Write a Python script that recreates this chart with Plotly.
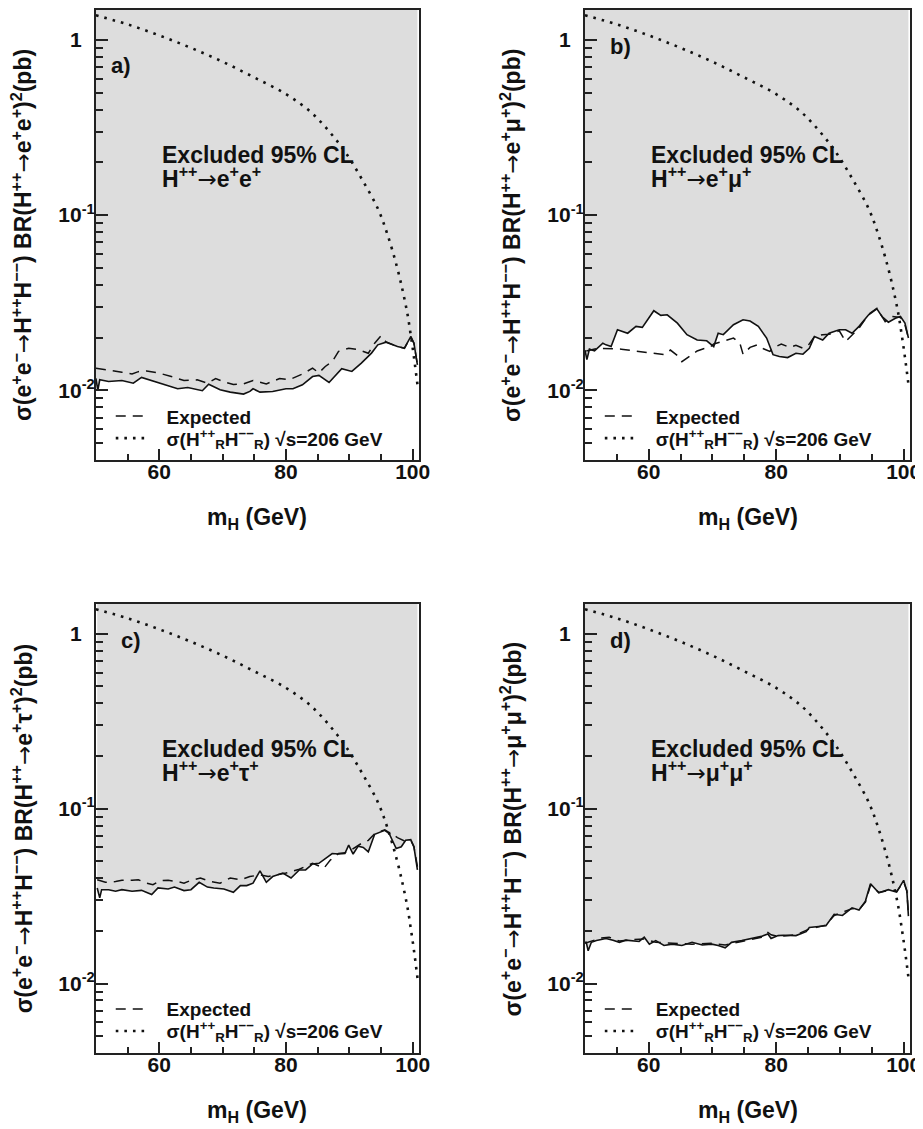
import math
import plotly.graph_objects as go

# ---------------- data ----------------
X_RANGE = [50, 101]
Y_RANGE = [0.004, 1.48]

# theoretical cross-section sigma(H_R++ H_R--) at sqrt(s)=206 GeV (same in all panels)
MASS_THEORY = [50.0, 55.0, 60.0, 65.0, 70.0, 75.0, 80.0, 84.0, 87.0, 89.5, 92.0,
               94.5, 96.0, 97.5, 98.5, 99.2, 99.7, 100.2, 100.8]
SIGMA_THEORY = [1.38, 1.225, 1.06, 0.90, 0.75, 0.61, 0.49, 0.385, 0.295, 0.225, 0.160,
                0.109, 0.078, 0.051, 0.036, 0.027, 0.0207, 0.0155, 0.0105]

# a) H++ -> e+ e+
MASS_A_OBS = [50.0, 50.3, 50.6, 52.0, 54.1, 55.9, 57.2, 59.3, 61.4, 62.9, 64.5, 65.5,
              66.8, 67.8, 69.6, 71.2, 73.3, 74.3, 74.8, 75.9, 77.9, 80.0, 81.1, 82.6,
              84.2, 85.2, 86.8, 88.8, 90.4, 91.9, 93.5, 94.5, 95.8, 97.6, 98.7, 99.7,
              100.2, 100.75]
LIMIT_A_OBS = [0.0117, 0.0100, 0.0115, 0.01125, 0.0114, 0.0110, 0.01186, 0.01125, 0.01068,
               0.01022, 0.0104, 0.01022, 0.00996, 0.01086, 0.0101, 0.00978, 0.00953, 0.00987,
               0.01022, 0.00978, 0.00987, 0.01022, 0.01022, 0.01077, 0.0120, 0.01218, 0.0111,
               0.0133, 0.01283, 0.01432, 0.01633, 0.0182, 0.01886, 0.01783, 0.01742, 0.0203,
               0.0186, 0.0140]
MASS_A_EXP = [50.0, 52.0, 54.1, 55.7, 56.7, 58.0, 59.8, 61.9, 63.9, 66.0, 67.6, 68.9,
              70.2, 71.7, 73.3, 74.8, 76.9, 79.0, 80.5, 82.6, 84.2, 85.2, 86.2, 87.3,
              88.3, 89.9, 91.4, 93.0, 94.0, 95.0, 95.8, 97.6, 98.7, 99.7, 100.2, 100.75]
LIMIT_A_EXP = [0.0134, 0.0131, 0.0127, 0.0124, 0.0128, 0.0129, 0.0126, 0.0120, 0.0114,
               0.0115, 0.0110, 0.0117, 0.0112, 0.0108, 0.0109, 0.0114, 0.0109, 0.0117,
               0.0115, 0.0124, 0.0134, 0.0126, 0.0137, 0.0146, 0.0167, 0.0174, 0.0171,
               0.0163, 0.0186, 0.0205, 0.0189, 0.0178, 0.0174, 0.0203, 0.0186, 0.0140]

# b) H++ -> e+ mu+
MASS_B_OBS = [50.0, 50.3, 50.7, 51.5, 52.8, 53.3, 54.1, 55.1, 56.7, 58.0, 59.0, 60.8,
              61.9, 62.9, 64.5, 66.0, 67.6, 69.1, 70.2, 70.9, 71.7, 73.3, 74.8, 75.9,
              77.2, 78.5, 79.5, 80.5, 81.8, 83.1, 84.2, 85.2, 86.0, 87.3, 88.3, 89.9,
              90.9, 91.9, 93.0, 94.5, 95.8, 96.6, 97.6, 98.7, 99.5, 100.2, 100.75]
LIMIT_B_OBS = [0.0170, 0.0150, 0.0172, 0.0168, 0.0186, 0.0182, 0.0178, 0.0222, 0.0212,
               0.0232, 0.0229, 0.0285, 0.0268, 0.0270, 0.0242, 0.0208, 0.0194, 0.0192,
               0.0178, 0.0212, 0.0208, 0.0237, 0.0253, 0.0249, 0.0232, 0.0199, 0.0160,
               0.0156, 0.0154, 0.0163, 0.0161, 0.0174, 0.0203, 0.0194, 0.0212, 0.0222,
               0.0222, 0.0212, 0.0232, 0.0270, 0.0292, 0.0264, 0.0245, 0.0258, 0.0264,
               0.0242, 0.0199]
MASS_B_EXP = [50.2, 52.0, 55.7, 58.2, 60.8, 62.4, 63.4, 64.5, 65.2, 66.5, 67.6, 68.6,
              69.6, 70.2, 71.2, 73.3, 74.3, 74.8, 75.9, 77.0, 78.0, 79.0, 80.0, 80.8,
              82.1, 83.1, 84.2, 85.2, 86.0, 87.3, 88.3, 89.9, 90.9, 91.9, 93.0, 94.5,
              95.8, 97.1, 98.2, 99.5, 100.2, 100.75]
LIMIT_B_EXP = [0.0168, 0.0174, 0.0172, 0.0167, 0.0162, 0.0160, 0.0170, 0.0158, 0.0146,
               0.0158, 0.0168, 0.0173, 0.0176, 0.0184, 0.0189, 0.0199, 0.0186, 0.0161,
               0.0176, 0.0182, 0.0173, 0.0167, 0.0178, 0.0184, 0.0176, 0.0181, 0.0174,
               0.0184, 0.0203, 0.0208, 0.0209, 0.0219, 0.0190, 0.0208, 0.0227, 0.0272,
               0.0294, 0.0247, 0.0264, 0.0261, 0.0237, 0.0199]

# c) H++ -> e+ tau+
MASS_C_OBS = [50.2, 50.6, 50.9, 52.0, 53.1, 54.1, 55.7, 57.2, 58.8, 59.8, 61.4, 62.4,
              63.9, 65.0, 66.3, 67.6, 68.6, 70.2, 71.7, 72.8, 73.8, 74.8, 75.9, 76.9,
              77.9, 79.5, 80.8, 82.1, 83.1, 84.2, 85.2, 86.2, 87.3, 88.3, 89.3, 89.9,
              90.6, 91.4, 92.2, 93.0, 94.0, 95.6, 96.3, 97.4, 98.2, 98.9, 99.7, 100.2,
              100.75]
LIMIT_C_OBS = [0.0352, 0.0309, 0.0344, 0.0344, 0.0337, 0.0344, 0.0337, 0.0341, 0.0323,
               0.0352, 0.0347, 0.0356, 0.0340, 0.0344, 0.0379, 0.0356, 0.0352, 0.0347,
               0.0332, 0.0363, 0.0363, 0.0375, 0.0441, 0.0379, 0.0409, 0.0428, 0.0401,
               0.0446, 0.0446, 0.0483, 0.0487, 0.0519, 0.0554, 0.0550, 0.0554, 0.0618,
               0.0550, 0.0610, 0.0600, 0.0566, 0.0713, 0.0751, 0.0719, 0.0591, 0.0605,
               0.0659, 0.0665, 0.0605, 0.0446]
MASS_C_EXP = [50.2, 51.5, 53.1, 54.1, 55.7, 56.7, 58.0, 59.0, 60.1, 61.4, 62.9, 63.9,
              65.0, 66.5, 68.1, 69.6, 71.2, 72.8, 74.3, 75.9, 77.2, 78.5, 80.0, 82.1,
              84.2, 86.0, 87.0, 88.3, 89.3, 90.4, 91.9, 93.0, 94.0, 95.6, 96.6, 97.6,
              98.7, 99.7, 100.2, 100.75]
LIMIT_C_EXP = [0.0392, 0.0379, 0.0383, 0.0389, 0.0389, 0.0392, 0.0375, 0.0367, 0.0387,
               0.0389, 0.0383, 0.0375, 0.0389, 0.0401, 0.0383, 0.0375, 0.0401, 0.0392,
               0.0409, 0.0418, 0.0409, 0.0418, 0.0428, 0.0450, 0.0487, 0.0457, 0.0508,
               0.0554, 0.0559, 0.0584, 0.0632, 0.0659, 0.0719, 0.0757, 0.0719, 0.0683,
               0.0654, 0.0659, 0.0605, 0.0466]

# d) H++ -> mu+ mu+
MASS_D_OBS = [50.0, 50.2, 50.5, 51.0, 51.8, 53.3, 54.4, 55.4, 56.4, 57.5, 58.5, 59.3,
              60.1, 61.1, 62.4, 63.7, 65.2, 66.8, 68.4, 69.9, 70.9, 72.0, 73.0, 74.6,
              76.1, 77.7, 78.7, 79.2, 80.3, 81.1, 83.1, 84.7, 85.2, 87.3, 87.8, 89.1,
              90.4, 91.9, 93.0, 94.0, 94.8, 96.1, 97.6, 98.9, 100.0, 100.5, 100.75]
LIMIT_D_OBS = [0.0172, 0.0172, 0.0154, 0.0172, 0.0176, 0.0181, 0.0177, 0.0172, 0.0177,
               0.0176, 0.0174, 0.0184, 0.0168, 0.0176, 0.0165, 0.0168, 0.0165, 0.0172,
               0.0166, 0.0168, 0.0165, 0.0160, 0.0172, 0.0176, 0.0181, 0.0186, 0.0192,
               0.0181, 0.0188, 0.0189, 0.0188, 0.0198, 0.0209, 0.0212, 0.0214, 0.0249,
               0.0245, 0.0271, 0.0263, 0.0296, 0.0372, 0.0330, 0.0344, 0.0333, 0.0389,
               0.0337, 0.0243]
MASS_D_EXP = [50.0, 51.0, 52.5, 53.8, 55.4, 57.5, 59.3, 61.1, 63.7, 66.8, 69.9, 72.0,
              74.6, 77.7, 78.7, 79.2, 80.3, 83.1, 85.2, 87.8, 89.1, 91.9, 93.0, 94.0,
              94.8, 96.1, 97.6, 98.9, 100.0, 100.5, 100.75]
LIMIT_D_EXP = [0.0170, 0.0174, 0.0182, 0.0184, 0.0175, 0.0178, 0.0180, 0.0172, 0.0170,
               0.0168, 0.0170, 0.0166, 0.0174, 0.0184, 0.0196, 0.0190, 0.0186, 0.0190,
               0.0205, 0.0216, 0.0245, 0.0268, 0.0265, 0.0292, 0.0365, 0.0332, 0.0340,
               0.0336, 0.0380, 0.0340, 0.0250]

ARROW = "<span style=\"font-family:'DejaVu Sans';font-weight:normal\">→</span>"
PANEL_LABELS = ["a)", "b)", "c)", "d)"]
CHANNELS = ["e<sup>+</sup>e<sup>+</sup>", "e<sup>+</sup>μ<sup>+</sup>",
            "e<sup>+</sup>τ<sup>+</sup>", "μ<sup>+</sup>μ<sup>+</sup>"]
X_TICKS = [60, 80, 100]
Y_TICKS = [0.01, 0.1, 1]
Y_TICK_TEXT = ["10<sup>-2</sup>", "10<sup>-1</sup>",
               "1<span style='color:rgba(0,0,0,0)'><sup>-1</sup></span>"]
Y_MINOR = [0.004, 0.005, 0.006, 0.007, 0.008, 0.009,
           0.02, 0.03, 0.04, 0.05, 0.06, 0.07, 0.08, 0.09,
           0.2, 0.3, 0.4, 0.5, 0.6, 0.7, 0.8, 0.9]
LEG_EXPECTED = "Expected"
LEG_THEORY = "σ(H<sup>++</sup><sub>R</sub>H<sup>−−</sup><sub>R</sub>) √s=206 GeV"
X_TITLE = "m<sub>H</sub> (GeV)"
EXCLUDED = "Excluded 95% CL"

# ---------------- layout helpers ----------------
# the page body has an 8px margin, so the figure is drawn 8px in from the corner
OFF = 8
FW, FH = 923 - OFF, 1129 - OFF
FONT = "Liberation Sans, Arial, sans-serif"
GREY = "#dddddd"
INK = "#111111"
AXC = "#222222"

def px_x(p):
    return min(1.0, max(0.0, (p - OFF) / FW))

def px_y(p):
    return min(1.0, max(0.0, 1 - (p - OFF) / FH))

# pixel boxes (in window pixels) of the four plot areas: (left, right, top, bottom)
BOXES = [(97, 424, 8, 459), (592, 921, 8, 459), (97, 424, 603, 1053), (592, 921, 603, 1053)]
LABEL_POS = [(110, 64), (615, 45), (120, 640), (615, 640)]
TEXT_X = [162, 657, 162, 657]
LEGEND_X = [112, 607, 112, 607]

PANELS = [
    (MASS_A_OBS, LIMIT_A_OBS, MASS_A_EXP, LIMIT_A_EXP),
    (MASS_B_OBS, LIMIT_B_OBS, MASS_B_EXP, LIMIT_B_EXP),
    (MASS_C_OBS, LIMIT_C_OBS, MASS_C_EXP, LIMIT_C_EXP),
    (MASS_D_OBS, LIMIT_D_OBS, MASS_D_EXP, LIMIT_D_EXP),
]

fig = go.Figure()
annotations = []
lay = {}

def bold(size):
    return dict(family=FONT, size=size, color=INK, weight="bold")

for i, (m_obs, l_obs, m_exp, l_exp) in enumerate(PANELS):
    n = i + 1
    xa = "x" if n == 1 else f"x{n}"
    ya = "y" if n == 1 else f"y{n}"
    leg_e = "legend" if n == 1 else f"legend{2 * n - 1}"
    leg_t = f"legend{2 * n}"
    left, right, top, bottom = BOXES[i]

    # excluded region (above observed limit)
    fig.add_trace(go.Scatter(
        x=list(m_obs) + [m_obs[-1], m_obs[0]],
        y=list(l_obs) + [Y_RANGE[1], Y_RANGE[1]],
        fill="toself", fillcolor=GREY, line=dict(width=0), mode="lines",
        showlegend=False, hoverinfo="skip", xaxis=xa, yaxis=ya))
    # observed
    fig.add_trace(go.Scatter(
        x=m_obs, y=l_obs, mode="lines", line=dict(color=INK, width=1.6),
        showlegend=False, xaxis=xa, yaxis=ya))
    # expected
    fig.add_trace(go.Scatter(
        x=m_exp, y=l_exp, mode="lines",
        line=dict(color=INK, width=1.5, dash="10px,7px"),
        name="\u00a0\u00a0\u00a0" + LEG_EXPECTED, legend=leg_e, xaxis=xa, yaxis=ya))
    # theory
    fig.add_trace(go.Scatter(
        x=MASS_THEORY, y=SIGMA_THEORY, mode="lines", line_shape="spline",
        line=dict(color=INK, width=2.6, dash="2.6px,6px"),
        name="\u00a0\u00a0\u00a0" + LEG_THEORY, legend=leg_t, xaxis=xa, yaxis=ya))

    axis_common = dict(showline=True, linecolor=AXC, linewidth=2, mirror=True,
                       showgrid=False, zeroline=False, ticks="inside",
                       tickcolor=AXC, tickwidth=1.5, tickfont=bold(21))
    lay["xaxis" if n == 1 else f"xaxis{n}"] = dict(
        axis_common, domain=[px_x(left), px_x(right)], anchor=ya,
        range=X_RANGE, tickvals=X_TICKS, ticklen=11, ticklabelstandoff=-8,
        minor=dict(ticks="inside", ticklen=6, dtick=5, tick0=50,
                   tickcolor=AXC, tickwidth=1.5, showgrid=False))
    lay["yaxis" if n == 1 else f"yaxis{n}"] = dict(
        axis_common, domain=[px_y(bottom), px_y(top)], anchor=xa, type="log",
        range=[math.log10(Y_RANGE[0]), math.log10(Y_RANGE[1])],
        tickvals=Y_TICKS, ticktext=Y_TICK_TEXT, ticklen=12, ticklabelstandoff=-5,
        minor=dict(ticks="inside", ticklen=7, tickvals=Y_MINOR,
                   tickcolor=AXC, tickwidth=1.5, showgrid=False))

    for leg, yc in ((leg_e, bottom - 44), (leg_t, bottom - 22)):
        lay[leg] = dict(x=px_x(LEGEND_X[i]), y=px_y(yc), xanchor="left", yanchor="middle",
                        bgcolor="rgba(0,0,0,0)", borderwidth=0, itemwidth=30,
                        font=bold(19))

    # y axis title
    ytitle = ("σ(e<sup>+</sup>e<sup>−</sup>" + ARROW + "H<sup>++</sup>H<sup>−−</sup>) BR(H<sup>++</sup>"
              + ARROW + CHANNELS[i] + ")<sup>2</sup>(pb)")
    annotations.append(dict(x=px_x(left - 75), y=px_y((top + bottom) / 2),
                            xref="paper", yref="paper", text=ytitle, textangle=-90,
                            showarrow=False, xanchor="center", yanchor="middle",
                            font=bold(23)))
    # x axis title
    annotations.append(dict(x=px_x((left + right) / 2), y=px_y(bottom + 58),
                            xref="paper", yref="paper", text=X_TITLE, showarrow=False,
                            xanchor="center", yanchor="middle", font=bold(23)))
    # panel label
    lx, ly = LABEL_POS[i]
    annotations.append(dict(x=px_x(lx), y=px_y(ly), xref="paper", yref="paper",
                            text=PANEL_LABELS[i], showarrow=False,
                            xanchor="left", yanchor="middle", font=bold(22)))
    # excluded text, two lines
    annotations.append(dict(x=px_x(TEXT_X[i]), y=px_y(top + 145), xref="paper", yref="paper",
                            text=EXCLUDED, showarrow=False, xanchor="left",
                            yanchor="middle", font=bold(23)))
    annotations.append(dict(x=px_x(TEXT_X[i]), y=px_y(top + 167), xref="paper", yref="paper",
                            text="H<sup>++</sup>" + ARROW + CHANNELS[i], showarrow=False,
                            xanchor="left", yanchor="middle", font=bold(23)))

fig.update_layout(
    width=FW, height=FH, margin=dict(l=0, r=0, t=0, b=0),
    paper_bgcolor="white", plot_bgcolor="white",
    font=dict(family=FONT, color=INK, weight="bold"),
    annotations=annotations, **lay)

fig.write_html("out.html")
